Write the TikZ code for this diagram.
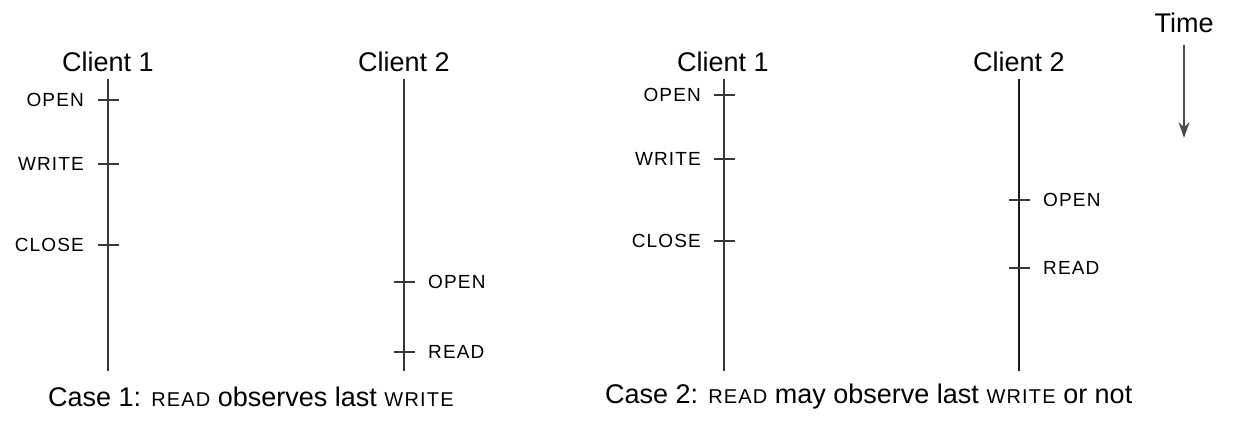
\documentclass[tikz,border=0pt]{standalone}
\usepackage{fontspec}
\setmainfont{Liberation Sans}
\newfontfamily\opfont[LetterSpace=6]{Liberation Sans}
\usetikzlibrary{arrows.meta}
\tikzset{
  every node/.style={inner sep=0pt},
  head/.style={font=\fontsize{27}{30}\selectfont, anchor=center},
  oplab/.style={font=\fontsize{19}{22}\selectfont\opfont},
  lopl/.style={oplab, anchor=east},
  ropl/.style={oplab, anchor=west},
  caption/.style={font=\fontsize{27}{30}\selectfont, anchor=west},
  tline/.style={line width=1.5pt, draw=black!78},
  tick/.style={line width=1.2pt, draw=black!78},
  tarrow/.style={line width=1.5pt, draw=black!70, -{Stealth[length=16pt,width=11pt]}}
}
\newcommand{\opn}[1]{{\fontsize{20}{22}\selectfont\opfont #1}}
\begin{document}
\begin{tikzpicture}[x=1pt,y=-1pt]
\useasboundingbox (0,0) rectangle (1246,430);
% ---------- Case 1 ----------
\node[head] (c1a) at (108,62) {Client 1};
\node[head] (c2a) at (404,62) {Client 2};
\coordinate (c1at) at (108,79);
\coordinate (c1ab) at (108,371);
\coordinate (c2at) at (404,79);
\coordinate (c2ab) at (404,371);
\draw[tline] (c1at) -- (c1ab);
\draw[tline] (c2at) -- (c2ab);
% client 1 ticks
\coordinate (a1) at (108,100);
\coordinate (a2) at (108,164);
\coordinate (a3) at (108,245);
\foreach \p in {a1,a2,a3}{\draw[tick] ([xshift=-10pt]\p) -- ([xshift=11pt]\p);}
\node[lopl] (a1l) at (84,100) {OPEN};
\node[lopl] (a2l) at (84,164) {WRITE};
\node[lopl] (a3l) at (84,245) {CLOSE};
% client 2 ticks
\coordinate (b1) at (404,282);
\coordinate (b2) at (404,352);
\foreach \p in {b1,b2}{\draw[tick] ([xshift=-10pt]\p) -- ([xshift=11pt]\p);}
\node[ropl] (b1l) at (428,282) {OPEN};
\node[ropl] (b2l) at (428,352) {READ};
\node[caption] (cap1) at (48,397) {Case 1: \opn{READ} observes last \opn{WRITE}};
% ---------- Case 2 ----------
\node[head] (c1b) at (723,62) {Client 1};
\node[head] (c2b) at (1019,62) {Client 2};
\coordinate (c1bt) at (724,79);
\coordinate (c1bb) at (724,371);
\coordinate (c2bt) at (1019,79);
\coordinate (c2bb) at (1019,371);
\draw[tline] (c1bt) -- (c1bb);
\draw[tline, draw=black!90] (c2bt) -- (c2bb);
\coordinate (d1) at (724,95);
\coordinate (d2) at (724,159);
\coordinate (d3) at (724,241);
\foreach \p in {d1,d2,d3}{\draw[tick] ([xshift=-10pt]\p) -- ([xshift=11pt]\p);}
\node[lopl] (d1l) at (701,95) {OPEN};
\node[lopl] (d2l) at (701,159) {WRITE};
\node[lopl] (d3l) at (701,241) {CLOSE};
\coordinate (e1) at (1019,200);
\coordinate (e2) at (1019,268);
\foreach \p in {e1,e2}{\draw[tick] ([xshift=-10pt]\p) -- ([xshift=11pt]\p);}
\node[ropl] (e1l) at (1043,200) {OPEN};
\node[ropl] (e2l) at (1043,268) {READ};
\node[caption] (cap2) at (605,397) {Case 2: \opn{READ} may observe last \opn{WRITE} or not};
% ---------- Time ----------
\node[head] (time) at (1184,23) {Time};
\coordinate (tt) at (1184,45);
\coordinate (tb) at (1184,138);
\draw[tarrow] (tt) -- (tb);
\end{tikzpicture}
\end{document}
